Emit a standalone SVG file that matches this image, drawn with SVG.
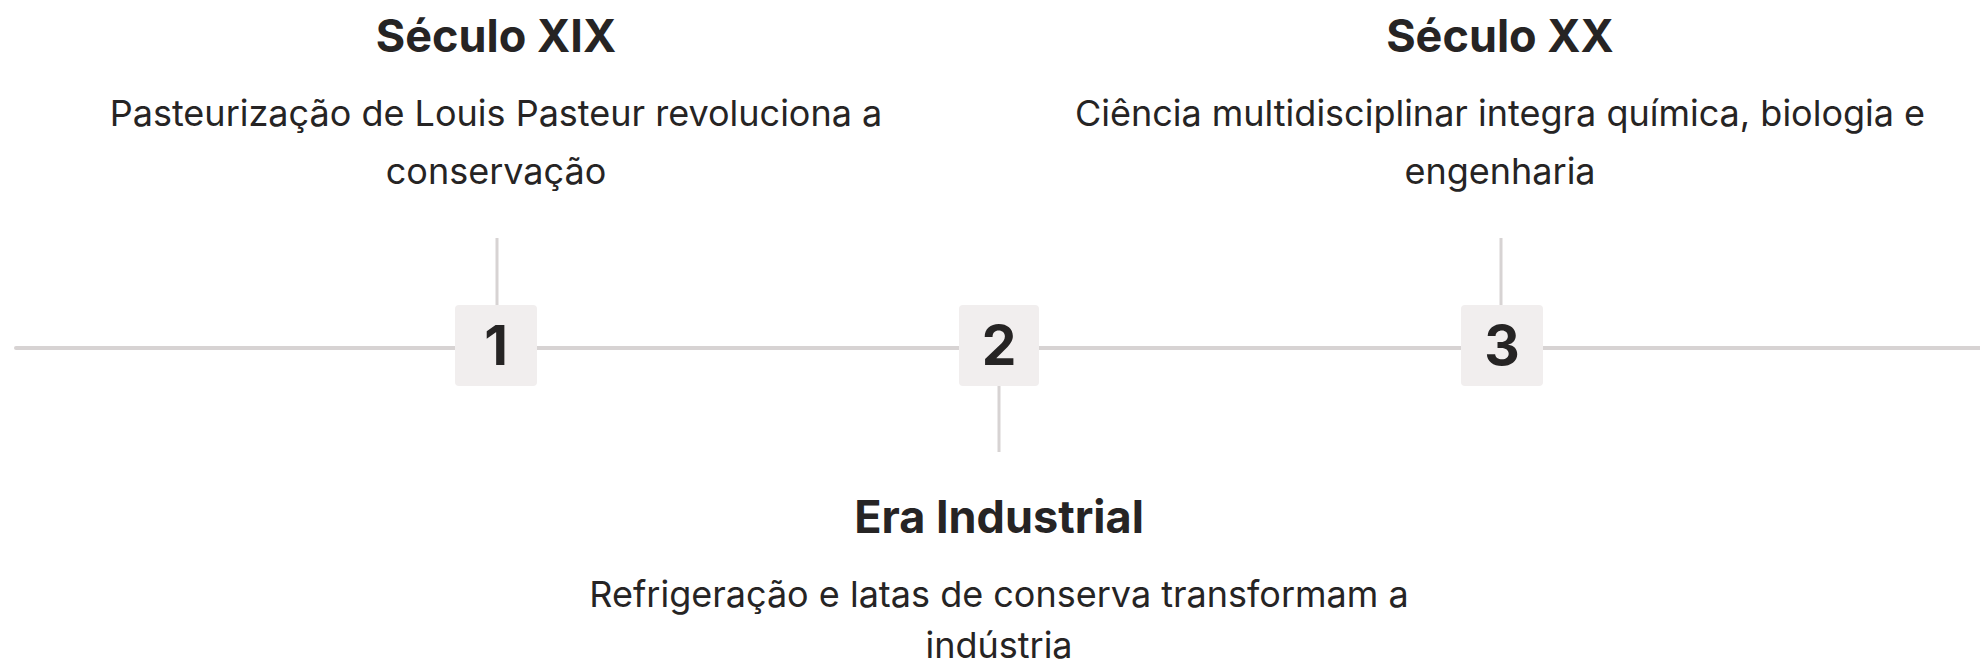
<svg xmlns="http://www.w3.org/2000/svg" width="1980" height="665" viewBox="0 0 1980 665">
<style>
.title{font-family:Inter,"Liberation Sans",sans-serif;font-weight:700;font-size:45px;fill:#262424;text-anchor:middle}
.desc{font-family:Inter,"Liberation Sans",sans-serif;font-weight:400;font-size:36px;fill:#262424;text-anchor:middle}
.num{font-family:Inter,"Liberation Sans",sans-serif;font-weight:700;font-size:55px;fill:#262424;text-anchor:middle}
.box{fill:#f1eeee}
.ln{stroke:#d7d3d3;stroke-width:4;stroke-linecap:round;fill:none}
.tick{stroke:#d7d3d3;stroke-width:3;fill:none}
</style>
<rect width="1980" height="665" fill="#ffffff"/>
<g id="connectors">
<line class="ln" x1="16" y1="348" x2="1990" y2="348"/>
<line class="tick" x1="497" y1="238" x2="497" y2="305"/>
<line class="tick" x1="999" y1="386" x2="999" y2="452"/>
<line class="tick" x1="1501" y1="238" x2="1501" y2="305"/>
</g>
<g id="node1">
<rect class="box" x="455" y="305" width="82" height="81" rx="4"/>
<text class="num" x="496" y="365">1</text>
<text class="title" x="496" y="52">Século XIX</text>
<text class="desc" x="496" y="126">Pasteurização de Louis Pasteur revoluciona a</text>
<text class="desc" x="496" y="184">conservação</text>
</g>
<g id="node2">
<rect class="box" x="959" y="305" width="80" height="81" rx="4"/>
<text class="num" x="999" y="365">2</text>
<text class="title" x="999" y="533">Era Industrial</text>
<text class="desc" x="999" y="607">Refrigeração e latas de conserva transformam a</text>
<text class="desc" x="999" y="658">indústria</text>
</g>
<g id="node3">
<rect class="box" x="1461" y="305" width="82" height="81" rx="4"/>
<text class="num" x="1502" y="365">3</text>
<text class="title" x="1500" y="52">Século XX</text>
<text class="desc" x="1500" y="126">Ciência multidisciplinar integra química, biologia e</text>
<text class="desc" x="1500" y="184">engenharia</text>
</g>
</svg>
